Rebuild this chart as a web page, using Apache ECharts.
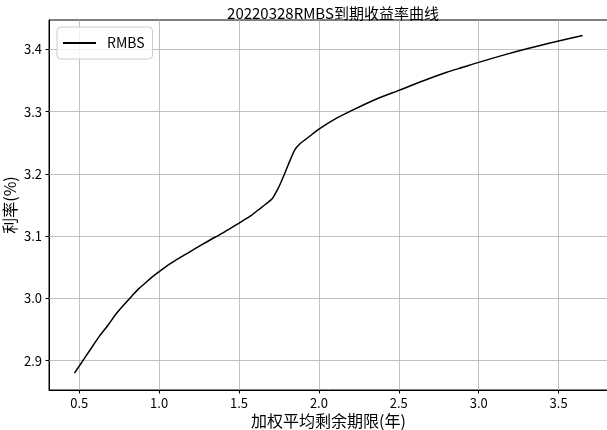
<!DOCTYPE html>
<html>
<head>
<meta charset="utf-8">
<script src="https://cdn.jsdelivr.net/npm/echarts@6/dist/echarts.min.js"></script>
<style>html,body{margin:0;padding:0;background:#fff}#c{width:607px;height:430px}</style>
</head>
<body>
<div id="c"></div>
<script>
const titleText = '20220328RMBS到期收益率曲线';
const seriesName = 'RMBS';
const xName = '加权平均剩余期限(年)';
const yName = '利率(%)';
const xTicks = [0.5, 1.0, 1.5, 2.0, 2.5, 3.0, 3.5];
const yTicks = [2.9, 3.0, 3.1, 3.2, 3.3, 3.4];
const termX = [0.47, 0.52, 0.57, 0.62, 0.68, 0.73, 0.78, 0.83, 0.87, 0.91, 0.95, 1.0, 1.07, 1.14, 1.22, 1.30, 1.41, 1.50, 1.57, 1.62, 1.67, 1.71, 1.735, 1.76, 1.79, 1.82, 1.85, 1.88, 1.92, 1.96, 2.0, 2.1, 2.2, 2.35, 2.5, 2.65, 2.8, 2.9, 3.0, 3.16, 3.32, 3.48, 3.65];
const rateY = [2.880, 2.899, 2.918, 2.937, 2.957, 2.975, 2.990, 3.004, 3.015, 3.024, 3.033, 3.043, 3.056, 3.067, 3.079, 3.091, 3.107, 3.121, 3.132, 3.142, 3.152, 3.161, 3.172, 3.185, 3.203, 3.222, 3.239, 3.248, 3.256, 3.264, 3.272, 3.288, 3.301, 3.319, 3.334, 3.349, 3.363, 3.371, 3.379, 3.391, 3.402, 3.412, 3.422];

const font = '"Noto Sans CJK SC", "DejaVu Sans", sans-serif';
const gridColor = '#b0b0b0';
const data = termX.map((x, i) => [x, rateY[i]]);
const gridLines = xTicks.map(v => ({ xAxis: v })).concat(yTicks.map(v => ({ yAxis: v })));

const chart = echarts.init(document.getElementById('c'), null, { renderer: 'canvas' });
chart.setOption({
  animation: false,
  backgroundColor: '#fff',
  textStyle: { fontFamily: font },
  title: {
    text: titleText,
    left: 328,
    textAlign: 'center',
    top: 1,
    textStyle: { fontFamily: font, fontSize: 15, fontWeight: 'normal', color: '#000' }
  },
  legend: {
    left: 57,
    top: 27,
    orient: 'vertical',
    padding: [9, 8, 9, 6],
    itemGap: 0,
    itemWidth: 33,
    itemHeight: 2,
    icon: 'rect',
    backgroundColor: 'rgba(255,255,255,0.8)',
    borderColor: '#cccccc',
    borderWidth: 1,
    borderRadius: 4,
    textStyle: { fontFamily: font, fontSize: 14, color: '#000', padding: [0, 0, 0, 6] },
    data: [{ name: seriesName, itemStyle: { color: '#000' } }]
  },
  grid: {
    left: 49, right: -1, top: 20, bottom: 40,
    containLabel: false, outerBoundsMode: 'none',
    show: true, borderColor: '#000', borderWidth: 1, backgroundColor: 'transparent'
  },
  xAxis: {
    type: 'value',
    min: 0.311,
    max: 3.809,
    name: xName,
    nameLocation: 'middle',
    nameGap: 23,
    nameMoveOverlap: false,
    nameTextStyle: { fontFamily: font, fontSize: 16, color: '#000' },
    axisLine: { show: true, lineStyle: { color: '#000', width: 1 } },
    axisTick: { show: true, length: 3.5, customValues: xTicks, lineStyle: { color: '#000', width: 1 } },
    axisLabel: { customValues: xTicks, margin: 7, fontSize: 13, color: '#000', fontFamily: font, formatter: v => v.toFixed(1) },
    splitLine: { show: false }
  },
  yAxis: {
    type: 'value',
    min: 2.853,
    max: 3.447,
    name: yName,
    nameLocation: 'middle',
    nameGap: 31,
    nameMoveOverlap: false,
    nameTextStyle: { fontFamily: font, fontSize: 16, color: '#000' },
    axisLine: { show: true, lineStyle: { color: '#000', width: 1 } },
    axisTick: { show: true, length: 3.5, customValues: yTicks, lineStyle: { color: '#000', width: 1 } },
    axisLabel: { customValues: yTicks, margin: 7, fontSize: 13, color: '#000', fontFamily: font, formatter: v => v.toFixed(1) },
    splitLine: { show: false }
  },
  series: [{
    name: seriesName,
    type: 'line',
    data: data,
    showSymbol: false,
    symbol: 'none',
    smooth: 0.3,
    lineStyle: { color: '#000', width: 1.5 },
    itemStyle: { color: '#000' },
    z: 3,
    markLine: {
      silent: true,
      symbol: ['none', 'none'],
      label: { show: false },
      lineStyle: { color: gridColor, width: 0.8, type: 'solid' },
      z: 1,
      data: gridLines
    }
  }]
});
</script>
</body>
</html>
